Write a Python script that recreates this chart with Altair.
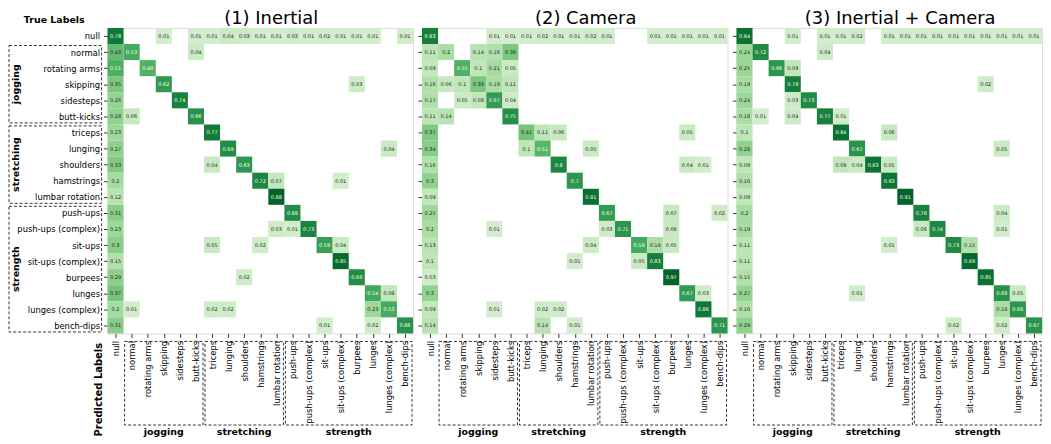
import altair as alt
import pandas as pd

LABELS = ["null", "normal", "rotating arms", "skipping", "sidesteps", "butt-kicks",
          "triceps", "lunging", "shoulders", "hamstrings", "lumbar rotation",
          "push-ups", "push-ups (complex)", "sit-ups", "sit-ups (complex)",
          "burpees", "lunges", "lunges (complex)", "bench-dips"]

GROUPS = ["jogging", "stretching", "strength"]
GROUP_START = [1, 6, 11]
GROUP_END = [5, 10, 18]

TITLES = ["(1) Inertial", "(2) Camera", "(3) Inertial + Camera"]

# row = true label, {column = predicted label: value}
INERTIAL = [
    {0: .78, 3: .01, 5: .01, 6: .01, 7: .04, 8: .03, 9: .01, 10: .01, 11: .03, 12: .01, 13: .02, 14: .01, 15: .01, 16: .01, 18: .01},
    {0: .43, 1: .53, 5: .04},
    {0: .51, 2: .49},
    {0: .35, 3: .62, 15: .03},
    {0: .26, 4: .74},
    {0: .28, 1: .06, 5: .66},
    {0: .23, 6: .77},
    {0: .27, 7: .69, 17: .04},
    {0: .33, 6: .04, 8: .63},
    {0: .2, 9: .72, 10: .07, 14: .01},
    {0: .12, 10: .88},
    {0: .31, 11: .69},
    {0: .23, 10: .03, 11: .01, 12: .73},
    {0: .3, 6: .05, 9: .02, 13: .59, 14: .04},
    {0: .15, 14: .85},
    {0: .29, 8: .02, 15: .69},
    {0: .37, 16: .54, 17: .09},
    {0: .2, 1: .01, 6: .02, 7: .02, 16: .23, 17: .53},
    {0: .31, 13: .01, 16: .02, 18: .66},
]

CAMERA = [
    {0: .83, 4: .01, 5: .01, 6: .01, 7: .02, 8: .01, 9: .01, 10: .02, 11: .01, 14: .01, 15: .01, 16: .01, 17: .01, 18: .01},
    {0: .11, 1: .2, 3: .14, 4: .16, 5: .39},
    {0: .09, 2: .55, 3: .1, 4: .21, 5: .05},
    {0: .16, 1: .06, 2: .1, 3: .39, 4: .19, 5: .11},
    {0: .17, 2: .05, 3: .08, 4: .67, 5: .04},
    {0: .11, 1: .14, 5: .75},
    {0: .37, 6: .41, 7: .11, 8: .06, 16: .05},
    {0: .34, 6: .1, 7: .51, 10: .05},
    {0: .16, 8: .8, 16: .04, 17: .01},
    {0: .3, 9: .7},
    {0: .09, 10: .91},
    {0: .25, 11: .67, 15: .07, 18: .02},
    {0: .2, 4: .01, 11: .03, 12: .71, 15: .06},
    {0: .13, 10: .04, 13: .59, 14: .19, 15: .05},
    {0: .1, 9: .01, 13: .05, 14: .83},
    {0: .03, 15: .97},
    {0: .3, 16: .67, 17: .03},
    {0: .09, 4: .01, 7: .02, 8: .02, 17: .86},
    {0: .14, 7: .14, 9: .01, 18: .71},
]

FUSION = [
    {0: .84, 3: .01, 5: .01, 6: .01, 7: .02, 9: .01, 10: .01, 11: .01, 12: .01, 13: .01, 14: .01, 15: .01, 16: .01, 17: .01, 18: .01},
    {0: .24, 1: .72, 5: .04},
    {0: .25, 2: .66, 3: .09},
    {0: .19, 3: .79, 15: .02},
    {0: .24, 3: .03, 4: .73},
    {0: .18, 1: .01, 3: .04, 5: .77, 6: .01},
    {0: .1, 6: .84, 9: .06},
    {0: .28, 7: .67, 16: .05},
    {0: .09, 6: .09, 7: .04, 8: .83, 9: .05},
    {0: .16, 9: .83},
    {0: .09, 10: .91},
    {0: .2, 11: .76, 16: .04},
    {0: .19, 11: .06, 12: .74, 16: .01},
    {0: .11, 9: .01, 13: .73, 14: .15},
    {0: .11, 14: .89},
    {0: .15, 15: .85},
    {0: .27, 7: .01, 16: .68, 17: .05},
    {0: .16, 16: .18, 17: .66},
    {0: .29, 13: .02, 16: .02, 18: .67},
]

MATRICES = [INERTIAL, CAMERA, FUSION]

W = 307
H = 307
FONT = "DejaVu Sans"
N = len(LABELS)

label_expr = "[" + ",".join("'" + l + "'" for l in LABELS) + "][datum.value]"

xs = alt.Scale(domain=[-0.5, N - 0.5], nice=False, zero=False)
ys = alt.Scale(domain=[-0.5, N - 0.5], nice=False, zero=False, reverse=True)

groups_df = pd.DataFrame({
    "name": GROUPS,
    "g0": [s - 0.5 for s in GROUP_START],
    "g1": [e + 0.5 for e in GROUP_END],
    "gm": [(s + e) / 2 for s, e in zip(GROUP_START, GROUP_END)],
})


def make_panel(k):
    M = MATRICES[k]
    first = k == 0
    recs = []
    for i, row in enumerate(M):
        for j, v in row.items():
            recs.append({"i": i, "j": j, "v": v,
                         "x0": j - 0.5, "x1": j + 0.5, "y0": i - 0.5, "y1": i + 0.5})
    cells = pd.DataFrame(recs)
    vmax = float(cells["v"].max())
    title_df = pd.DataFrame({"t": [TITLES[k]]})

    xaxis = alt.Axis(values=list(range(N)), labelExpr=label_expr, labelAngle=270,
                     labelAlign="right", labelBaseline="middle", labelFontSize=8.4,
                     labelPadding=3, tickSize=4, tickColor="black", tickWidth=0.8,
                     domain=False, grid=False,
                     title="Predicted Labels" if first else "",
                     titleAngle=270, titleX=-9, titleY=56, titleAlign="center",
                     titleBaseline="middle", titleFontSize=10, titleFontWeight="bold")
    yaxis = alt.Axis(values=list(range(N)), labelExpr=label_expr, labels=first,
                     labelFontSize=8.4, labelPadding=4, tickSize=4, tickColor="black",
                     tickWidth=0.8, domain=False, grid=False,
                     title="True Labels" if first else "",
                     titleAngle=0, titleX=-54, titleY=-8, titleAlign="center",
                     titleBaseline="middle", titleFontSize=9.5, titleFontWeight="bold")

    def X(f):
        return alt.X(f, type="quantitative", scale=xs, axis=xaxis)

    def Y(f):
        return alt.Y(f, type="quantitative", scale=ys, axis=yaxis)

    rect = alt.Chart(cells).mark_rect().encode(
        x=X("x0"), x2="x1", y=Y("y0"), y2="y1",
        color=alt.Color("v:Q", scale=alt.Scale(scheme="greens", domain=[0, vmax]), legend=None),
    )
    text = alt.Chart(cells).mark_text(fontSize=5, font=FONT).encode(
        x=X("j"), y=Y("i"),
        text=alt.Text("v:Q", format=".2~f"),
        color=alt.condition(f"datum.v > {vmax * 0.5}", alt.value("white"), alt.value("#222222")),
    )
    bbox = alt.Chart(groups_df).mark_rect(
        filled=False, stroke="black", strokeWidth=0.8, strokeDash=[3, 2], xOffset=1, x2Offset=-1
    ).encode(x=X("g0"), x2="g1", y=alt.value(H + 8), y2=alt.value(H + 92))
    btext = alt.Chart(groups_df).mark_text(
        fontWeight="bold", fontSize=9.5, font=FONT, baseline="middle"
    ).encode(x=X("gm"), y=alt.value(H + 99), text="name:N")
    ttext = alt.Chart(title_df).mark_text(
        fontSize=18, font=FONT, baseline="middle", dx=11
    ).encode(x=alt.value(W / 2), y=alt.value(-9), text="t:N")

    layers = [rect, text, bbox, btext, ttext]
    if first:
        lbox = alt.Chart(groups_df).mark_rect(
            filled=False, stroke="black", strokeWidth=0.8, strokeDash=[3, 2], yOffset=1.5, y2Offset=-1.5
        ).encode(y=Y("g0"), y2="g1", x=alt.value(-99), x2=alt.value(-6))
        ltext = alt.Chart(groups_df).mark_text(
            angle=270, fontWeight="bold", fontSize=9.5, font=FONT, baseline="middle"
        ).encode(y=Y("gm"), x=alt.value(-92), text="name:N")
        layers += [lbox, ltext]

    return alt.layer(*layers).properties(width=W, height=H)


chart = alt.hconcat(*[make_panel(k) for k in range(3)], spacing=3).resolve_scale(
    color="independent"
).configure_view(stroke="black", strokeWidth=1.2).configure(font=FONT, padding=0)

chart.save("out.html", embed_options={"renderer": "svg", "actions": False})
